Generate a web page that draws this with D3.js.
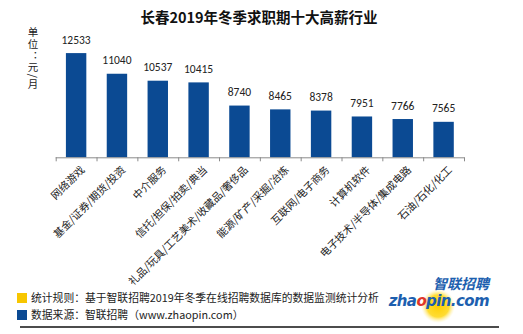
<!DOCTYPE html>
<html>
<head>
<meta charset="utf-8">
<script src="https://cdn.jsdelivr.net/npm/d3@7"></script>
<style>
  html, body { margin: 0; padding: 0; background: #fff; }
  svg { display: block; font-family: "Microsoft YaHei", "Noto Sans CJK SC", sans-serif; }
</style>
</head>
<body>
<svg id="chart" width="523" height="334"></svg>
<script>
// Top ten industries by average winter job-seeking salary in Changchun, 2019
const industries = [
  "网络游戏",
  "基金/证券/期货/投资",
  "中介服务",
  "信托/担保/拍卖/典当",
  "礼品/玩具/工艺美术/收藏品/奢侈品",
  "能源/矿产/采掘/冶炼",
  "互联网/电子商务",
  "计算机软件",
  "电子技术/半导体/集成电路",
  "石油/石化/化工"
];
const salaries = [12533, 11040, 10537, 10415, 8740, 8465, 8378, 7951, 7766, 7565];
const yDomain = [5000, 14000];

const titleText = "长春2019年冬季求职期十大高薪行业";
const unitText = "单位：元/月";
const noteRule = "统计规则：基于智联招聘2019年冬季在线招聘数据库的数据监测统计分析";
const noteSource = "数据来源：智联招聘（www.zhaopin.com）";

const BAR = "#0b4a93";
const YELLOW = "#f7c600";
const TEXT = "#222";
const LOGO_BLUE = "#1d5faf";

const svg = d3.select("#chart");
const defs = svg.append("defs");

// title
svg.append("text")
  .attr("x", 259).attr("y", 23)
  .attr("text-anchor", "middle")
  .attr("font-size", 14.5).attr("font-weight", "bold")
  .attr("fill", "#111")
  .text(titleText);

// vertical unit label
svg.append("text")
  .attr("x", 33).attr("y", 27)
  .style("writing-mode", "vertical-rl")
  .style("text-orientation", "mixed")
  .attr("font-size", 10.5).attr("letter-spacing", 1.2)
  .attr("fill", TEXT)
  .text(unitText);

// scales
const x = d3.scaleBand().domain(industries).range([55.7, 464]).paddingInner(0.5).paddingOuter(0.25);
const y = d3.scaleLinear().domain(yDomain).range([157.3, 32.8]);

// bars
svg.append("g").selectAll("rect").data(salaries).join("rect")
  .attr("x", (d, i) => x(industries[i]))
  .attr("y", d => y(d))
  .attr("width", x.bandwidth())
  .attr("height", d => y(yDomain[0]) - y(d))
  .attr("fill", BAR);

// value labels
svg.append("g").selectAll("text").data(salaries).join("text")
  .attr("x", (d, i) => x(industries[i]) + x.bandwidth() / 2)
  .attr("y", d => y(d) - 9.5)
  .attr("text-anchor", "middle")
  .attr("font-family", "Carlito, 'Liberation Sans', sans-serif")
  .attr("font-size", 11.5).attr("fill", TEXT)
  .text(d => d);

// category axis
const xAxis = d3.axisBottom(d3.scaleLinear().domain([0, industries.length]).range([55.7, 464]))
  .ticks(industries.length).tickSize(4).tickFormat("");
const axisG = svg.append("g").attr("transform", `translate(0,${y(yDomain[0])})`).call(xAxis);
axisG.selectAll("path, line").attr("stroke", "#8a8a8a").attr("stroke-width", 1);
axisG.select(".domain").attr("d", "M55.7,0.5H464.5");

// rotated category labels
svg.append("g").selectAll("text").data(industries).join("text")
  .attr("transform", d => `translate(${x(d) + x.bandwidth() / 2 + 4},${y(yDomain[0]) + 8}) rotate(-45)`)
  .attr("text-anchor", "end")
  .attr("dy", "0.7em")
  .attr("font-size", 10.5).attr("fill", TEXT)
  .text(d => d);

// footnotes
const notes = [
  { text: noteRule, color: YELLOW, y: 302 },
  { text: noteSource, color: BAR, y: 319 }
];
const noteG = svg.append("g");
noteG.selectAll("rect").data(notes).join("rect")
  .attr("x", 17).attr("y", d => d.y - 9).attr("width", 10).attr("height", 10)
  .attr("fill", d => d.color);
noteG.selectAll("text").data(notes).join("text")
  .attr("x", 31).attr("y", d => d.y)
  .attr("font-size", 10.8).attr("fill", TEXT)
  .text(d => d.text);

// bottom rule
svg.append("line")
  .attr("x1", 20).attr("x2", 499).attr("y1", 327).attr("y2", 327)
  .attr("stroke", "#111").attr("stroke-width", 1.5);

// zhaopin logo: a yellow sun behind the wordmark, red ball for the "o"
const logo = svg.append("g");
const grad = defs.append("radialGradient").attr("id", "sun");
grad.append("stop").attr("offset", "0%").attr("stop-color", "#ffcf00");
grad.append("stop").attr("offset", "65%").attr("stop-color", "#ffdc33");
grad.append("stop").attr("offset", "100%").attr("stop-color", "#fff2b0").attr("stop-opacity", 0);
logo.append("circle").attr("cx", 438).attr("cy", 306).attr("r", 17).attr("fill", "url(#sun)");
logo.append("text")
  .attr("x", 489).attr("y", 288.5)
  .attr("text-anchor", "end")
  .attr("font-size", 14).attr("font-style", "italic").attr("font-weight", "bold")
  .attr("fill", LOGO_BLUE)
  .text("智联招聘");
const word = logo.append("text")
  .attr("x", 489).attr("y", 306)
  .attr("text-anchor", "end")
  .attr("font-family", "'DejaVu Sans', sans-serif")
  .attr("font-size", 15).attr("font-style", "italic").attr("font-weight", "bold")
  .attr("letter-spacing", -0.6)
  .attr("fill", LOGO_BLUE);
word.append("tspan").text("zha");
word.append("tspan").attr("fill", "#e0352b").text("o");
word.append("tspan").text("pin.com");
</script>
</body>
</html>
